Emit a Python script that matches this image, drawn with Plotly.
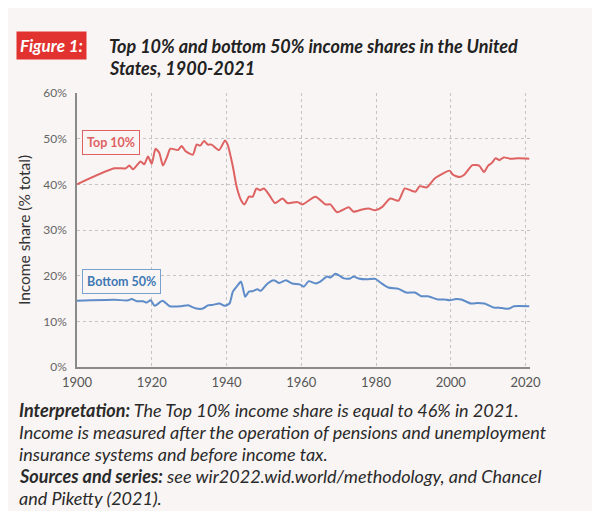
import plotly.graph_objects as go

# Top 10% income share, United States
top_years = [1900, 1910, 1913, 1914, 1915, 1917, 1918, 1919, 1920, 1921, 1922, 1923, 1924, 1925,
             1927, 1928, 1929, 1931, 1932, 1933, 1934, 1935, 1936, 1938, 1939.6, 1940.3, 1941.7,
             1942.7, 1943.9, 1944.8, 1946, 1947, 1948, 1949, 1950, 1951.5, 1953, 1955, 1956.3,
             1959, 1960.3, 1963.8, 1966.5, 1967.8, 1969.6, 1972.7, 1974, 1976.3, 1978, 1979.8,
             1981.6, 1983.8, 1986, 1987.7, 1989.5, 1990.6, 1991.7, 1993.5, 1995.7, 1997.5,
             1999.7, 2000.6, 2002.4, 2003.6, 2005.8, 2007.6, 2008.9, 2010, 2011, 2012, 2013,
             2014.2, 2016, 2018, 2021]
top_share = [40.0, 43.5, 43.5, 44.1, 43.3, 45.0, 44.4, 46.1, 44.5, 47.8, 46.9, 44.1, 45.8, 47.8,
             47.5, 48.4, 47.3, 46.5, 48.7, 48.5, 49.5, 48.7, 48.7, 47.5, 49.6, 48.7, 43.9,
             39.5, 36.5, 35.6, 37.3, 37.3, 39.1, 38.7, 39.1, 37.6, 35.9, 36.9, 35.9,
             36.1, 35.6, 37.3, 35.6, 35.6, 33.9, 35.0, 34.0, 34.5, 34.7, 34.3,
             35.0, 36.9, 36.4, 39.1, 38.6, 38.4, 39.6, 39.3, 41.3, 42.2,
             43.0, 42.1, 41.6, 42.1, 44.2, 44.1, 42.7, 44.1, 44.7, 45.7, 45.3,
             45.9, 45.6, 45.7, 45.6]

# Bottom 50% income share
bot_years = [1900, 1910, 1913.7, 1914.6, 1916, 1917.7, 1918.6, 1919.7, 1920.8, 1922.9, 1924.8,
             1927.9, 1929.7, 1931.9, 1933.7, 1935, 1936.3, 1938.1, 1939.5, 1940.8, 1941.7, 1943,
             1943.9, 1945, 1946, 1947, 1948.3, 1949.2, 1951, 1952.7, 1954.1, 1955.9, 1957.6,
             1959.6, 1960.7, 1962, 1963.8, 1965.1, 1966.9, 1967.8, 1969.1, 1970, 1971.4, 1973.1,
             1974, 1975.3, 1977.6, 1979.8, 1981.5, 1983.3, 1986, 1988.1, 1990.4, 1992.1,
             1993.9, 1996.6, 1998.3, 1999.7, 2001.4, 2002.8, 2005.4, 2007.2, 2009, 2011.6,
             2012.9, 2014.3, 2015.6, 2016.9, 2021]
bot_share = [14.5, 14.7, 14.6, 14.9, 14.4, 14.4, 14.1, 14.6, 13.4, 14.5, 13.3,
             13.3, 13.5, 12.8, 12.8, 13.5, 13.6, 13.9, 13.4, 13.9, 16.5, 17.9,
             18.7, 15.4, 16.5, 16.6, 17.0, 16.7, 18.3, 19.0, 18.4, 19.0, 18.3,
             18.1, 17.6, 18.8, 18.3, 18.7, 19.8, 19.6, 20.4, 20.1, 19.4, 19.4,
             19.8, 19.4, 19.2, 19.3, 18.3, 17.4, 17.1, 16.3, 16.3, 15.5,
             15.5, 14.8, 14.8, 14.6, 14.9, 14.8, 13.9, 14.0, 13.9, 13.0,
             13.0, 12.8, 12.8, 13.3, 13.3]

x_ticks = [1900, 1920, 1940, 1960, 1980, 2000, 2020]
y_ticks = [0, 10, 20, 30, 40, 50, 60]
y_labels = [str(v) + "%" for v in y_ticks]

red = "#de6262"
blue = "#5e8cc8"
bg = "#f9f5f4"

fig = go.Figure()
fig.add_trace(go.Scatter(x=top_years, y=top_share, mode="lines", name="Top 10%",
                         line=dict(color=red, width=2, shape="spline", smoothing=0.6)))
fig.add_trace(go.Scatter(x=bot_years, y=bot_share, mode="lines", name="Bottom 50%",
                         line=dict(color=blue, width=2, shape="spline", smoothing=0.6)))

fig.update_xaxes(range=[1900, 2021.2], tickvals=x_ticks, showgrid=True, gridcolor="#c4c4c4",
                 griddash="dot", gridwidth=1, showline=True, linecolor="#8a8a8a", linewidth=1.5,
                 zeroline=False, ticks="", automargin=False, ticklabelstandoff=3,
                 tickfont=dict(family="Lato", size=13, color="#555"))
fig.update_yaxes(range=[0, 60], tickvals=y_ticks, ticktext=y_labels, showgrid=True,
                 gridcolor="#c4c4c4", griddash="dot", gridwidth=1, showline=True,
                 linecolor="#8a8a8a", linewidth=1.5, zeroline=False, ticks="", automargin=False,
                 ticklabelstandoff=6,
                 tickfont=dict(family="Lato", size=12, color="#666"),
                 title=dict(text="Income share (% total)", standoff=9,
                            font=dict(family="Lato", size=15.5, color="#333")))

fig.add_annotation(x=1901.3, y=49.1, xref="x", yref="y", text="<b>Top 10%</b>",
                   showarrow=False, xanchor="left",
                   font=dict(family="Lato", size=12.5, color=red),
                   bordercolor=red, borderwidth=1, borderpad=4, bgcolor=bg)
fig.add_annotation(x=1901.3, y=18.7, xref="x", yref="y", text="<b>Bottom 50%</b>",
                   showarrow=False, xanchor="left",
                   font=dict(family="Lato", size=12.5, color="#3f78b5"),
                   bordercolor="#7aa0d0", borderwidth=1, borderpad=4, bgcolor=bg)

# header and notes placed by screenshot pixel (page adds an 8px body margin)
W, H = 600, 511
off = 8
ml, mt = 77 - off, 93 - off
pw, ph = 453, 274
mr, mb = W - ml - pw, H - mt - ph


def px(x, y):
    return (x - off - ml) / pw, (mt + ph - (y - off)) / ph


fx, fy = px(16, 46)
fig.add_annotation(x=fx, y=fy, xref="paper", yref="paper", showarrow=False,
                   xanchor="left", yanchor="middle",
                   text="<b><i>Figure 1:</i></b>", bgcolor="#e2322f", borderpad=3,
                   font=dict(family="Lato", size=17, color="white"))
title_lines = ["Top 10% and bottom 50% income shares in the United", "States, 1900-2021"]
for i, t in enumerate(title_lines):
    tx, ty = px(107, 46 + 22 * i)
    fig.add_annotation(x=tx, y=ty, xref="paper", yref="paper", showarrow=False,
                       xanchor="left", yanchor="middle", text="<b><i>" + t + "</i></b>",
                       font=dict(family="Lato", size=18, color="#222"))

notes = [
    "<b>Interpretation:</b> The Top 10% income share is equal to 46% in 2021.",
    "Income is measured after the operation of pensions and unemployment",
    "insurance systems and before income tax.",
    "<b>Sources and series:</b> see wir2022.wid.world/methodology, and Chancel",
    "and Piketty (2021).",
]
for i, t in enumerate(notes):
    nx, ny = px(17, 410 + 22 * i)
    fig.add_annotation(x=nx, y=ny, xref="paper", yref="paper", showarrow=False,
                       xanchor="left", yanchor="middle", text="<i>" + t + "</i>",
                       font=dict(family="Lato", size=18, color="#2a2a2a"))

fig.update_layout(width=W, height=H, margin=dict(l=ml, r=mr, t=mt, b=mb),
                  paper_bgcolor=bg, plot_bgcolor=bg, showlegend=False)
fig.write_html("out.html")
